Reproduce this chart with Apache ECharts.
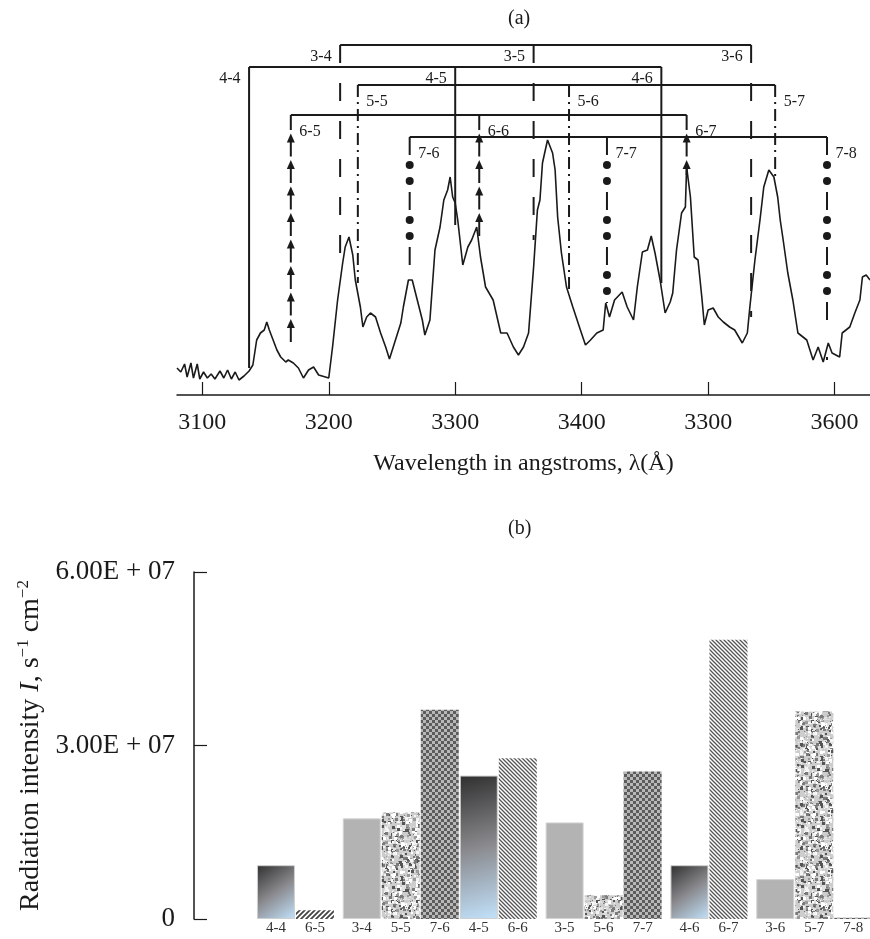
<!DOCTYPE html>
<html>
<head>
<meta charset="utf-8">
<script src="https://cdn.jsdelivr.net/npm/echarts@6/dist/echarts.min.js"></script>
<style>
  html, body { margin: 0; padding: 0; background: #fff; }
  #chart { width: 870px; height: 939px; }
</style>
</head>
<body>
<div id="chart"></div>
<script>
// (a) spectrum, wavelength in angstroms vs intensity (arbitrary units)
const spectrumWavelength = [
  3080, 3083, 3086, 3088, 3091, 3093, 3096, 3098, 3101, 3104,
  3107, 3110, 3114, 3117, 3120, 3123, 3126, 3129, 3133, 3137,
  3140, 3143, 3146, 3149, 3151, 3153, 3156, 3159, 3162, 3166,
  3168, 3172, 3176, 3180, 3184, 3188, 3192, 3200, 3203, 3207,
  3211, 3213, 3216, 3219, 3221, 3225, 3227, 3230, 3233, 3237,
  3241, 3245, 3248, 3251, 3257, 3259, 3263, 3266, 3270, 3274,
  3276, 3280, 3284, 3288, 3291, 3294, 3296, 3298, 3300, 3302,
  3306, 3310, 3313, 3317, 3320, 3324, 3330, 3336, 3341, 3346,
  3350, 3354, 3358, 3362, 3365, 3367, 3369, 3373, 3377, 3379,
  3381, 3384, 3388, 3393, 3399, 3403, 3407, 3412, 3417, 3419,
  3422, 3426, 3432, 3436, 3441, 3444, 3448, 3452, 3455, 3458,
  3462, 3466, 3470, 3472, 3475, 3479, 3482, 3483, 3486, 3487,
  3489, 3492, 3495, 3497, 3500, 3504, 3508, 3512, 3517, 3521,
  3527, 3531, 3533, 3537, 3541, 3544, 3548, 3552, 3555, 3557,
  3559, 3563, 3567, 3571, 3578, 3583, 3587, 3591, 3595, 3598,
  3604, 3606, 3612, 3616, 3620, 3622, 3625, 3628
];
const spectrumIntensity = [
  27, 23, 31, 18, 32, 17, 31, 16, 23, 17,
  21, 16, 24, 17, 25, 16, 23, 15, 19, 24,
  30, 55, 62, 65, 73, 65, 55, 45, 38, 33,
  35, 32, 27, 17, 25, 28, 20, 17, 48, 95,
  132, 148, 158, 140, 115, 88, 68, 78, 82, 78,
  62, 48, 36, 48, 72, 88, 115, 115, 95, 75,
  60, 75, 145, 168, 195, 205, 218, 198, 192, 175,
  130, 148, 155, 168, 138, 108, 95, 62, 62, 48,
  40, 48, 62, 128, 185, 195, 232, 255, 242, 225,
  178, 142, 108, 88, 65, 50, 55, 62, 65, 92,
  78, 95, 103, 88, 75, 108, 143, 145, 159, 142,
  115, 82, 93, 102, 145, 182, 188, 228, 198, 178,
  138, 135, 98, 70, 85, 87, 78, 73, 68, 65,
  52, 62, 88, 135, 175, 208, 225, 218, 198, 175,
  158, 122, 95, 62, 55, 35, 48, 33, 52, 42,
  38, 62, 68, 82, 95, 118, 120, 115
];
const xTickValues = [3100, 3200, 3300, 3400, 3500, 3600];
const xTickLabels = ['3100', '3200', '3300', '3400', '3300', '3600'];

// band heads (order as in panel b)
const transitions = ['4-4', '6-5', '3-4', '5-5', '7-6', '4-5', '6-6', '3-5', '5-6', '7-7', '4-6', '6-7', '3-6', '5-7', '7-8'];
const lineWavelength = [3137, 3170, 3209, 3223, 3264, 3300, 3319, 3362, 3390, 3420, 3463, 3483, 3534, 3553, 3594];
const lineBottom = [27, 48, 130, 112, 117, 170, 152, 155, 105, 92, 112, 220, 78, 218, 35];
const upperLevels = [3, 4, 5, 6, 7];
const bracketHeight = [350, 328, 310, 280, 258];

// (b) radiation intensity
const intensities = [9.3e6, 1.5e6, 1.74e7, 1.84e7, 3.62e7, 2.48e7, 2.78e7, 1.67e7, 4.1e6, 2.55e7, 9.3e6, 4.83e7, 6.9e6, 3.59e7, 2e5];
const barGroup = [0, 0, 1, 1, 1, 1, 1, 2, 2, 2, 3, 3, 4, 4, 4];
const yTickValues = [0, 3e7, 6e7];
const yTickLabels = ['0', '3.00E + 07', '6.00E + 07'];

const SERIF = '"Liberation Serif", "DejaVu Serif", serif';
const INK = '#1a1a1a';

const chart = echarts.init(document.getElementById('chart'), null, { renderer: 'canvas' });

function levelOf (t) { return Number(t.split('-')[0]) }
function heightOf (t) { return bracketHeight[upperLevels.indexOf(levelOf(t))] }

function makeCanvas (w, h, draw) {
  const c = document.createElement('canvas');
  c.width = w; c.height = h;
  draw(c.getContext('2d'));
  return c;
}
const hatchBack = makeCanvas(4, 4, ctx => {
  ctx.fillStyle = '#fff'; ctx.fillRect(0, 0, 4, 4);
  ctx.strokeStyle = '#555'; ctx.lineWidth = 1.3;
  ctx.beginPath();
  ctx.moveTo(-1, -1); ctx.lineTo(5, 5);
  ctx.moveTo(-1, 3); ctx.lineTo(1, 5);
  ctx.moveTo(3, -1); ctx.lineTo(5, 1);
  ctx.stroke();
});
const hatchFwd = makeCanvas(5, 5, ctx => {
  ctx.fillStyle = '#fff'; ctx.fillRect(0, 0, 5, 5);
  ctx.strokeStyle = '#444'; ctx.lineWidth = 1.8;
  ctx.beginPath();
  ctx.moveTo(-1, 6); ctx.lineTo(6, -1);
  ctx.moveTo(-1, 1); ctx.lineTo(1, -1);
  ctx.moveTo(4, 6); ctx.lineTo(6, 4);
  ctx.stroke();
});
const checker = makeCanvas(6, 6, ctx => {
  ctx.fillStyle = '#b8b8b8'; ctx.fillRect(0, 0, 6, 6);
  ctx.fillStyle = '#5c5c5c';
  ctx.fillRect(0, 0, 3, 3); ctx.fillRect(3, 3, 3, 3);
});
const granite = makeCanvas(60, 60, ctx => {
  ctx.fillStyle = '#cdcdcd'; ctx.fillRect(0, 0, 60, 60);
  let s = 12345;
  const rnd = () => { s = (s * 1103515245 + 12345) % 2147483648; return s / 2147483648 };
  const tones = ['#f4f4f4', '#ffffff', '#9a9a9a', '#7a7a7a', '#e0e0e0', '#555'];
  for (let i = 0; i < 700; i++) {
    ctx.fillStyle = tones[Math.floor(rnd() * tones.length)];
    const sz = 1 + Math.floor(rnd() * 3);
    ctx.fillRect(Math.floor(rnd() * 60), Math.floor(rnd() * 60), sz, sz);
  }
});

function barStyle (t) {
  const lv = levelOf(t);
  if (lv === 3) return { color: '#b3b3b3', borderColor: '#d4d4d4', borderWidth: 1 };
  if (lv === 4) {
    return {
      color: { type: 'linear', x: 0, y: 0, x2: 1, y2: 1, colorStops: [
        { offset: 0, color: '#2f2f2f' }, { offset: 0.5, color: '#8a8a8e' }, { offset: 1, color: '#c2e2fb' }
      ] },
      borderColor: '#cfcfcf', borderWidth: 1
    };
  }
  if (lv === 5) return { color: { image: granite, repeat: 'repeat' } };
  if (lv === 6) return { color: { image: t === '6-5' ? hatchFwd : hatchBack, repeat: 'repeat' } };
  return { color: { image: checker, repeat: 'repeat' } };
}

const dashFor = { 3: [18, 20], 4: 'solid', 5: [12, 5, 2, 5], 6: [15, 11.5], 7: [18, 37] };

const series = [];

// spectrum trace
series.push({
  type: 'line', xAxisIndex: 0, yAxisIndex: 0, symbol: 'none',
  data: spectrumWavelength.map((w, i) => [w, spectrumIntensity[i]]),
  lineStyle: { color: INK, width: 1.6 }
});

// horizontal bars of each progression
upperLevels.forEach((lv, k) => {
  const ws = lineWavelength.filter((w, i) => levelOf(transitions[i]) === lv);
  series.push({
    type: 'line', xAxisIndex: 0, yAxisIndex: 0, symbol: 'none',
    data: [[Math.min(...ws), bracketHeight[k]], [Math.max(...ws), bracketHeight[k]]],
    lineStyle: { color: INK, width: 2 }
  });
});

// vertical drop lines
const triangles = [];
const circles = [];
const labelsLeft = [];
const labelsRight = [];
transitions.forEach((t, i) => {
  const lv = levelOf(t);
  const top = heightOf(t);
  const w = lineWavelength[i];
  series.push({
    type: 'line', xAxisIndex: 0, yAxisIndex: 0, symbol: 'none',
    data: [[w, top], [w, lineBottom[i]]],
    lineStyle: { color: INK, width: 2, type: dashFor[lv] }
  });
  if (lv === 6) {
    for (let m = top - 23; m > lineBottom[i] + 5; m -= 26.5) triangles.push([w, m]);
  }
  if (lv === 7) {
    for (let p = 0; p < 3; p++) {
      [28, 44].forEach(o => {
        const m = top - o - 55 * p;
        if (m > lineBottom[i] + 5) circles.push([w, m]);
      });
    }
  }
  if (lv <= 4) labelsLeft.push({ name: t, value: [w, top - 12] });
  else labelsRight.push({ name: t, value: [w, top - 17] });
});

series.push({
  type: 'scatter', xAxisIndex: 0, yAxisIndex: 0, symbol: 'triangle', symbolSize: [8, 9],
  itemStyle: { color: INK, opacity: 1 }, data: triangles
});
series.push({
  type: 'scatter', xAxisIndex: 0, yAxisIndex: 0, symbol: 'circle', symbolSize: 8,
  itemStyle: { color: INK, opacity: 1 }, data: circles
});
const bandLabel = { show: true, fontFamily: SERIF, fontSize: 16, color: INK, distance: 8, opacity: 1, formatter: p => p.name };
series.push({
  type: 'scatter', xAxisIndex: 0, yAxisIndex: 0, symbolSize: 1,
  itemStyle: { color: 'rgba(0,0,0,0)', opacity: 1 }, data: labelsLeft,
  label: Object.assign({}, bandLabel, { position: 'left' })
});
series.push({
  type: 'scatter', xAxisIndex: 0, yAxisIndex: 0, symbolSize: 1,
  itemStyle: { color: 'rgba(0,0,0,0)', opacity: 1 }, data: labelsRight,
  label: Object.assign({}, bandLabel, { position: 'right' })
});

// (b) bars
const groupGap = 0.2;
series.push({
  type: 'bar', xAxisIndex: 1, yAxisIndex: 1, barWidth: 38,
  data: transitions.map((t, i) => ({
    value: [i + groupGap * barGroup[i], intensities[i]],
    itemStyle: barStyle(t)
  })),
  label: {
    show: true, position: 'bottom', distance: 2,
    fontFamily: SERIF, fontSize: 15, color: '#333',
    formatter: p => transitions[p.dataIndex]
  }
});

const option = {
  animation: false,
  backgroundColor: '#fff',
  textStyle: { fontFamily: SERIF },
  title: [
    { text: '(a)', left: 503, top: 4, textStyle: { fontFamily: SERIF, fontSize: 20, fontWeight: 'normal', color: INK } },
    { text: '(b)', left: 503, top: 514, textStyle: { fontFamily: SERIF, fontSize: 20, fontWeight: 'normal', color: INK } }
  ],
  grid: [
    { left: 177, right: 0, top: 45, height: 350, containLabel: false, outerBoundsMode: 'none' },
    { left: 194, right: 5, top: 572, bottom: 20, containLabel: false, outerBoundsMode: 'none' }
  ],
  xAxis: [
    {
      gridIndex: 0, type: 'value', min: 3080, max: 3628,
      axisLine: { lineStyle: { color: INK, width: 1.5 } },
      axisTick: { inside: true, length: 13, customValues: xTickValues, lineStyle: { color: INK, width: 1.2 } },
      axisLabel: {
        customValues: xTickValues, margin: 16,
        fontFamily: SERIF, fontSize: 24, color: INK,
        formatter: v => xTickLabels[xTickValues.indexOf(v)]
      },
      splitLine: { show: false },
      name: 'Wavelength in angstroms, λ(Å)', nameLocation: 'middle', nameGap: 57,
      nameTextStyle: { fontFamily: SERIF, fontSize: 24, color: INK }
    },
    { gridIndex: 1, type: 'value', min: -2.1, max: 15.1, show: false }
  ],
  yAxis: [
    { gridIndex: 0, type: 'value', min: 0, max: 350, show: false },
    {
      gridIndex: 1, type: 'value', min: 0, max: 6e7, interval: 3e7,
      axisLine: { show: true, onZero: false, lineStyle: { color: INK, width: 1.5 } },
      axisTick: { show: true, inside: true, length: 13, lineStyle: { color: INK, width: 1.2 } },
      axisLabel: {
        margin: 19, fontFamily: SERIF, fontSize: 27, color: INK,
        formatter: v => yTickLabels[yTickValues.indexOf(v)]
      },
      splitLine: { show: false },
      name: '{n|Radiation intensity }{i|I}{n|, s}{sup|−1}{n| cm}{sup|−2}',
      nameLocation: 'middle', nameRotate: 90, nameGap: 148,
      nameTextStyle: {
        fontFamily: SERIF, fontSize: 28, color: INK,
        rich: {
          n: { fontFamily: SERIF, fontSize: 28, color: INK },
          i: { fontFamily: SERIF, fontSize: 28, color: INK, fontStyle: 'italic' },
          sup: { fontFamily: SERIF, fontSize: 17, color: INK, padding: [0, 0, 14, 0] }
        }
      }
    }
  ],
  series: series
};

chart.setOption(option);
window.addEventListener('resize', () => chart.resize());
</script>
</body>
</html>
